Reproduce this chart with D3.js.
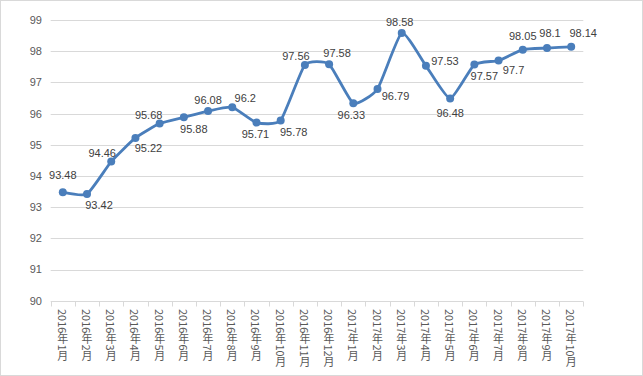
<html lang="zh">
<head>
    <meta charset="utf-8">
    <title>2016-2017</title>
    <script src="https://d3js.org/d3.v7.min.js"></script>
    <style>
        body { margin: 0; background: #fff; }
        text { font-family: "Liberation Sans", Arial, sans-serif; }
        .xlab { font-family: "Noto Sans CJK SC", sans-serif; writing-mode: vertical-rl; text-orientation: mixed; }
    </style>
</head>
<body>
<script>
    // data
    var months = ['2016年1月', '2016年2月', '2016年3月', '2016年4月', '2016年5月', '2016年6月',
        '2016年7月', '2016年8月', '2016年9月', '2016年10月', '2016年11月', '2016年12月',
        '2017年1月', '2017年2月', '2017年3月', '2017年4月', '2017年5月', '2017年6月',
        '2017年7月', '2017年8月', '2017年9月', '2017年10月'];
    var values = [93.48, 93.42, 94.46, 95.22, 95.68, 95.88, 96.08, 96.2, 95.71, 95.78, 97.56, 97.58,
        96.33, 96.79, 98.58, 97.53, 96.48, 97.57, 97.7, 98.05, 98.1, 98.14];
    var yTicks = [90, 91, 92, 93, 94, 95, 96, 97, 98, 99];
    // data label nudges from the marker, [dx, dy] in px (Excel moved them around by hand)
    var labelNudge = [[0, -17], [12, 11], [-9, -9], [13, 10], [-11, -9], [10, 11.5],
        [0, -11], [13, -9], [-1, 11], [13, 12], [-9, -9], [8, -11],
        [-2, 12], [18, 7], [-2, -11], [19, -5], [0, 14], [10, 11],
        [15, 9], [0, -14], [3, -15], [12, -14]];

    var width = 643, height = 376;
    var plotLeft = 50.7, plotRight = 583.3, plotTop = 20, plotBottom = 300.7;
    var blue = '#4a7ebb';

    var svg = d3.select('body').append('svg')
        .attr('width', width).attr('height', height);

    // chart border
    svg.append('rect')
        .attr('x', 0.5).attr('y', 0.5).attr('width', width - 1).attr('height', height - 1)
        .attr('fill', '#fff').attr('stroke', '#d9d9d9');

    var x = d3.scaleBand().domain(months).range([plotLeft, plotRight]);
    var y = d3.scaleLinear().domain([90, 99]).range([plotBottom, plotTop]);

    // gridlines
    svg.append('g').selectAll('line').data(yTicks).enter().append('line')
        .attr('x1', plotLeft).attr('x2', plotRight)
        .attr('y1', function (d) { return Math.round(y(d)) + 0.5; })
        .attr('y2', function (d) { return Math.round(y(d)) + 0.5; })
        .attr('stroke', '#d9d9d9');

    // y labels
    svg.append('g').selectAll('text').data(yTicks).enter().append('text')
        .attr('x', 42).attr('y', function (d) { return y(d); })
        .attr('dy', '0.36em').attr('text-anchor', 'end')
        .attr('font-size', 11).attr('fill', '#595959')
        .text(function (d) { return d; });

    // x ticks at category edges
    var edges = months.map(function (m) { return x(m); }).concat([plotRight]);
    svg.append('g').selectAll('line').data(edges).enter().append('line')
        .attr('x1', function (d) { return Math.round(d) + 0.5; })
        .attr('x2', function (d) { return Math.round(d) + 0.5; })
        .attr('y1', Math.round(plotBottom) + 0.5).attr('y2', Math.round(plotBottom) + 5.5)
        .attr('stroke', '#d9d9d9');

    // x labels, vertical
    svg.append('g').selectAll('text').data(months).enter().append('text')
        .attr('class', 'xlab')
        .attr('x', function (d) { return x(d) + x.bandwidth() / 2; })
        .attr('y', 309)
        .attr('font-size', 11).attr('fill', '#595959')
        .text(function (d) { return d; });

    // smoothed line
    var line = d3.line()
        .x(function (d, i) { return x(months[i]) + x.bandwidth() / 2; })
        .y(function (d) { return y(d); })
        .curve(d3.curveCardinal.tension(0.5));

    svg.append('path').datum(values)
        .attr('d', line).attr('fill', 'none')
        .attr('stroke', blue).attr('stroke-width', 2.8)
        .attr('stroke-linejoin', 'round').attr('stroke-linecap', 'round');

    svg.append('g').selectAll('circle').data(values).enter().append('circle')
        .attr('cx', function (d, i) { return x(months[i]) + x.bandwidth() / 2; })
        .attr('cy', function (d) { return y(d); })
        .attr('r', 4).attr('fill', blue);

    // data labels
    svg.append('g').selectAll('text').data(values).enter().append('text')
        .attr('x', function (d, i) { return x(months[i]) + x.bandwidth() / 2 + labelNudge[i][0]; })
        .attr('y', function (d, i) { return y(d) + labelNudge[i][1]; })
        .attr('dy', '0.36em').attr('text-anchor', 'middle')
        .attr('font-size', 11).attr('fill', '#404040')
        .text(function (d) { return d; });
</script>
</body>
</html>
